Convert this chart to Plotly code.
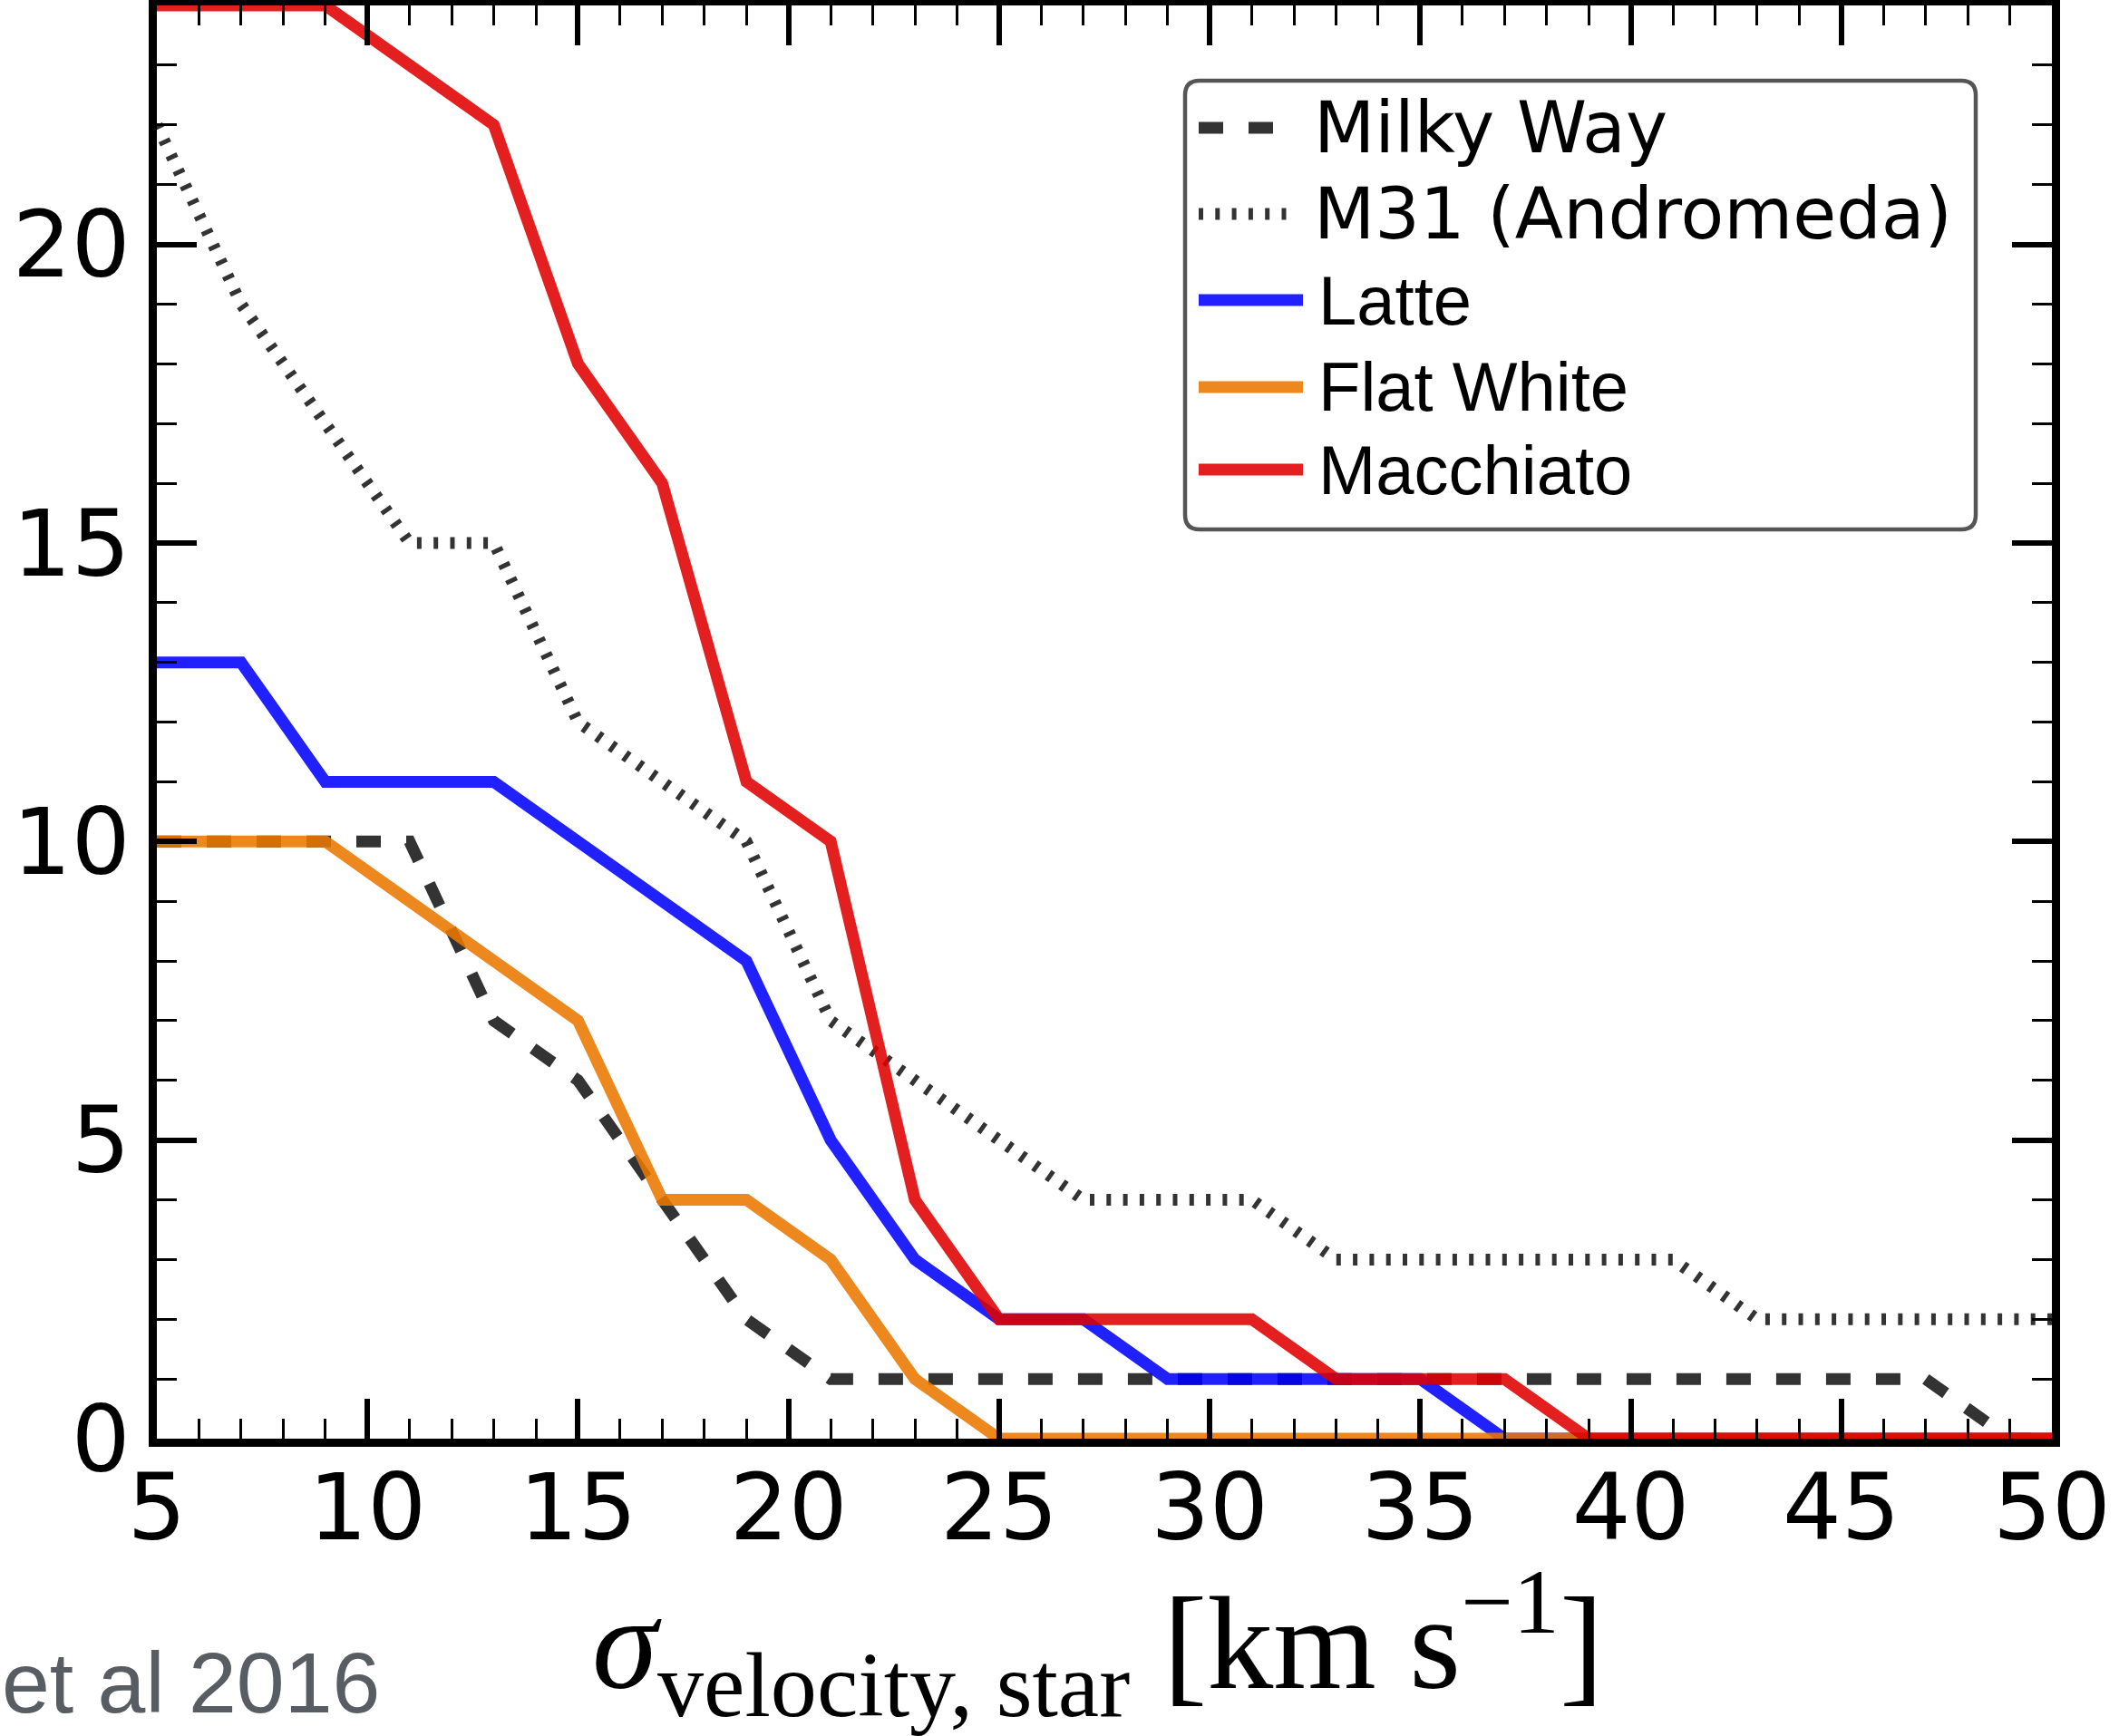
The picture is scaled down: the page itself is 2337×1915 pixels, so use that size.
import plotly.graph_objects as go

# ---------------- data ----------------
x_vals = [5, 7, 9, 11, 13, 15, 17, 19, 21, 23, 25, 27, 29, 31, 33, 35, 37, 39, 41, 43, 45, 47, 49, 51]
milky_way = [10, 10, 10, 10, 7, 6, 4, 2, 1, 1, 1, 1, 1, 1, 1, 1, 1, 1, 1, 1, 1, 1, 0, 0]
m31 = [22, 19, 17, 15, 15, 12, 11, 10, 7, 6, 5, 4, 4, 4, 3, 3, 3, 3, 3, 2, 2, 2, 2, 2]
latte = [13, 13, 11, 11, 11, 10, 9, 8, 5, 3, 2, 2, 1, 1, 1, 1, 0, 0, 0, 0, 0, 0, 0, 0]
flat_white = [10, 10, 10, 9, 8, 7, 4, 4, 3, 1, 0, 0, 0, 0, 0, 0, 0, 0, 0, 0, 0, 0, 0, 0]
macchiato = [24, 24, 24, 23, 22, 18, 16, 11, 10, 4, 2, 2, 2, 2, 1, 1, 1, 0, 0, 0, 0, 0, 0, 0]

series_names = ["Milky Way", "M31 (Andromeda)", "Latte", "Flat White", "Macchiato"]
series_values = [milky_way, m31, latte, flat_white, macchiato]
x_ticks = [5, 10, 15, 20, 25, 30, 35, 40, 45, 50]
y_ticks = [0, 5, 10, 15, 20]

# ---------------- styles ----------------
W, H = 2337, 1915
L, R, T, B = 173, 74, 6, 328
PW, PH = W - L - R, H - T - B

def px(xp):
    return (xp - L) / PW

def py(yp):
    return (H - B - yp) / PH

line_styles = [
    dict(color="#333333", width=13, dash="27px,28px"),
    dict(color="#333333", width=13, dash="5px,13.3px"),
    dict(color="rgba(0,0,255,0.87)", width=13),
    dict(color="rgba(235,119,0,0.88)", width=13),
    dict(color="rgba(223,0,0,0.88)", width=13),
]
legend_fonts = [
    dict(family="DejaVu Sans", size=78, color="black"),
    dict(family="DejaVu Sans", size=78, color="black"),
    dict(family="Liberation Sans", size=76, color="black"),
    dict(family="Liberation Sans", size=76, color="black"),
    dict(family="Liberation Sans", size=76, color="black"),
]
legend_text_x = [1447, 1447, 1452, 1452, 1452]

fig = go.Figure()
for name, vals, st in zip(series_names, series_values, line_styles):
    fig.add_trace(go.Scatter(x=x_vals, y=vals, mode="lines", name=name,
                             line=st, showlegend=False, hoverinfo="skip"))

tick_font = dict(family="DejaVu Sans", size=102, color="black")
axis_common = dict(
    showline=True, linewidth=9, linecolor="black", mirror="ticks",
    ticks="inside", ticklen=44, tickwidth=6, tickcolor="black",
    showgrid=False, zeroline=False, tickfont=tick_font,
    minor=dict(ticks="inside", ticklen=22, tickwidth=3.3, tickcolor="black", dtick=1, showgrid=False),
)
fig.update_xaxes(range=[5, 50], tickvals=x_ticks, ticktext=[str(v) for v in x_ticks],
                 ticklabelstandoff=-20, **axis_common)
fig.update_yaxes(range=[0, 24], tickvals=y_ticks, ticktext=[str(v) for v in y_ticks], **axis_common)

# ---------------- custom legend ----------------
bx1, by1, bx2, by2, r = 1307, 89, 2179, 584, 16
path = (
    f"M {px(bx1 + r)},{py(by1)} L {px(bx2 - r)},{py(by1)} "
    f"Q {px(bx2)},{py(by1)} {px(bx2)},{py(by1 + r)} "
    f"L {px(bx2)},{py(by2 - r)} Q {px(bx2)},{py(by2)} {px(bx2 - r)},{py(by2)} "
    f"L {px(bx1 + r)},{py(by2)} Q {px(bx1)},{py(by2)} {px(bx1)},{py(by2 - r)} "
    f"L {px(bx1)},{py(by1 + r)} Q {px(bx1)},{py(by1)} {px(bx1 + r)},{py(by1)} Z"
)
shapes = [dict(type="path", xref="paper", yref="paper", path=path,
               line=dict(color="#555555", width=4.5), fillcolor="white", layer="above")]
row_y = [141, 236, 331, 427, 518]
sample_end = [1405, 1420, 1437, 1437, 1437]
annotations = []
for name, st, yy, xe, lf, tx in zip(series_names, line_styles, row_y, sample_end,
                                    legend_fonts, legend_text_x):
    shapes.append(dict(type="line", xref="paper", yref="paper",
                       x0=px(1322), x1=px(xe), y0=py(yy), y1=py(yy),
                       line=dict(color=st["color"], width=st["width"], dash=st.get("dash", "solid")),
                       layer="above"))
    annotations.append(dict(xref="paper", yref="paper", x=px(tx), y=py(yy),
                            xanchor="left", yanchor="middle", showarrow=False, text=name,
                            font=lf))

# x-axis title
annotations.append(dict(
    xref="paper", yref="paper", x=px(1211), y=py(1812), xanchor="center", yanchor="middle",
    showarrow=False,
    text="<i>σ</i><sub>velocity, star</sub> [km s<sup>−1</sup>]",
    font=dict(family="Liberation Serif", size=146, color="black")))
# cropped attribution
annotations.append(dict(
    xref="paper", yref="paper", x=px(421), y=py(1856), xanchor="right", yanchor="middle",
    showarrow=False, text="et al 2016",
    font=dict(family="Liberation Sans", size=95, color="rgb(88,93,99)")))

fig.update_layout(
    width=W, height=H, margin=dict(l=L, r=R, t=T, b=B, autoexpand=False),
    paper_bgcolor="white", plot_bgcolor="white",
    shapes=shapes, annotations=annotations, showlegend=False,
)

fig.write_html("out.html", config={"displayModeBar": False},
               post_script="document.body.style.margin='0px';")
